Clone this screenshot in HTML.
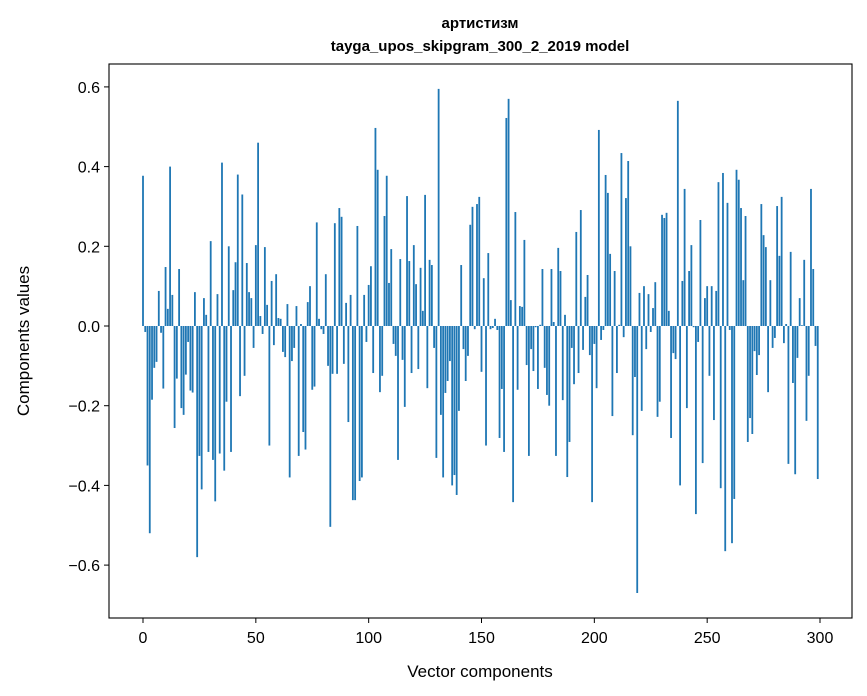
<!DOCTYPE html>
<html><head><meta charset="utf-8"><style>
html,body{margin:0;padding:0;background:#fff;}
svg{display:block;font-family:"Liberation Sans","DejaVu Sans",sans-serif;}
</style></head><body>
<svg id="chart" width="867" height="696" viewBox="0 0 867 696">
<rect width="867" height="696" fill="#fff"/>
<text x="480" y="28" text-anchor="middle" font-size="15" font-weight="bold">артистизм</text>
<text x="480" y="51" text-anchor="middle" font-size="15" font-weight="bold">tayga_upos_skipgram_300_2_2019 model</text>
<g id="bars"></g>
<g id="axes"></g>
<rect x="109" y="64" width="743" height="554" fill="none" stroke="#000" stroke-width="1.1"/>
<text x="480" y="677" text-anchor="middle" font-size="17">Vector components</text>
<text transform="translate(29,341) rotate(-90)" text-anchor="middle" font-size="17">Components values</text>
</svg>
<script>
const values = [0.377,-0.015,-0.35,-0.52,-0.185,-0.105,-0.09,0.088,-0.017,-0.157,0.148,0.043,0.40,0.078,-0.256,-0.132,0.143,-0.206,-0.223,-0.122,-0.04,-0.162,-0.167,0.085,-0.58,-0.326,-0.41,0.07,0.028,-0.316,0.213,-0.336,-0.44,0.08,-0.32,0.41,-0.363,-0.19,0.2,-0.316,0.09,0.16,0.38,-0.176,0.33,-0.125,0.158,0.085,0.07,-0.055,0.203,0.46,0.025,-0.02,0.198,0.053,-0.3,0.113,-0.048,0.13,0.02,0.018,-0.065,-0.078,0.055,-0.38,-0.088,-0.055,0.05,-0.326,0.005,-0.266,-0.31,0.06,0.1,-0.16,
-0.152,0.26,0.018,-0.008,-0.02,0.13,-0.1,-0.504,-0.12,0.258,-0.12,0.296,0.274,-0.095,0.058,-0.241,0.078,-0.437,-0.437,0.251,-0.389,-0.38,0.078,-0.04,0.103,0.15,-0.118,0.497,0.392,-0.166,-0.125,0.276,0.377,0.108,0.193,-0.045,-0.075,-0.336,0.168,-0.085,-0.203,0.326,0.163,-0.118,0.203,0.105,-0.108,0.146,0.038,0.329,-0.156,0.166,0.153,-0.055,-0.331,0.595,-0.223,-0.38,-0.168,-0.138,-0.088,-0.4,-0.374,-0.424,-0.213,0.153,-0.058,-0.138,-0.075,0.254,0.299,-0.008,0.306,0.324,
-0.115,0.12,-0.3,0.183,-0.008,-0.005,0.018,-0.01,-0.281,-0.158,-0.316,0.522,0.57,0.065,-0.442,0.286,-0.16,0.05,0.048,0.216,-0.098,-0.326,-0.058,-0.113,-0.003,-0.158,0.003,0.143,-0.105,-0.173,-0.2,0.143,0.01,-0.326,0.196,0.138,-0.186,0.028,-0.379,-0.291,-0.055,-0.146,0.236,-0.118,0.291,-0.06,0.073,0.128,-0.073,-0.442,-0.045,-0.156,0.492,-0.035,-0.01,0.379,0.334,0.181,-0.226,0.138,-0.118,0.003,0.434,-0.028,0.321,0.414,0.2,-0.274,-0.128,-0.67,0.083,-0.213,0.1,-0.058,
0.08,-0.015,0.045,0.11,-0.228,-0.19,0.279,0.271,0.284,0.038,-0.281,-0.068,-0.083,0.565,-0.4,0.113,0.344,-0.206,0.138,0.203,-0.003,-0.472,-0.04,0.266,-0.344,0.07,0.1,-0.125,0.1,-0.236,0.088,0.361,-0.407,0.384,-0.565,0.309,-0.01,-0.545,-0.434,0.392,0.367,0.296,0.115,0.276,-0.291,-0.231,-0.271,-0.063,-0.123,-0.073,0.306,0.228,0.198,-0.166,0.115,-0.055,-0.03,0.301,0.176,0.324,-0.043,0.005,-0.346,0.186,-0.143,-0.372,-0.08,0.07,0.002,0.166,-0.238,-0.125,0.344,0.143,-0.05,-0.384];
const xTicks = [0,50,100,150,200,250,300];
const yTicks = [-0.6,-0.4,-0.2,0,0.2,0.4,0.6];
const yTickLabels = ["\u22120.6","\u22120.4","\u22120.2","0.0","0.2","0.4","0.6"];

const NS = "http://www.w3.org/2000/svg";
const xScale = v => 143 + v * 2.2567;
const yScale = v => 326 - v * 398.5;
const barsG = document.getElementById('bars');
const axesG = document.getElementById('axes');
values.forEach((v, i) => {
  const r = document.createElementNS(NS, 'rect');
  const y0 = yScale(0), y1 = yScale(v);
  r.setAttribute('x', xScale(i - 0.4));
  r.setAttribute('width', 0.8 * 2.2567);
  r.setAttribute('y', Math.min(y0, y1));
  r.setAttribute('height', Math.max(Math.abs(y1 - y0), 0.3));
  r.setAttribute('fill', '#1f77b4');
  
  
  barsG.appendChild(r);
});
xTicks.forEach(t => {
  const x = xScale(t);
  const l = document.createElementNS(NS, 'line');
  l.setAttribute('x1', x); l.setAttribute('x2', x);
  l.setAttribute('y1', 618); l.setAttribute('y2', 623);
  l.setAttribute('stroke', '#000');
  
  
  axesG.appendChild(l);
  const tx = document.createElementNS(NS, 'text');
  tx.setAttribute('x', x); tx.setAttribute('y', 643);
  tx.setAttribute('text-anchor', 'middle');
  tx.setAttribute('font-size', '16');
  tx.textContent = t;
  
  
  axesG.appendChild(tx);
});
yTicks.forEach((t, k) => {
  const y = yScale(t);
  const l = document.createElementNS(NS, 'line');
  l.setAttribute('x1', 104); l.setAttribute('x2', 109);
  l.setAttribute('y1', y); l.setAttribute('y2', y);
  l.setAttribute('stroke', '#000');
  
  
  axesG.appendChild(l);
  const tx = document.createElementNS(NS, 'text');
  tx.setAttribute('x', 100); tx.setAttribute('y', y + 6);
  tx.setAttribute('text-anchor', 'end');
  tx.setAttribute('font-size', '16');
  tx.textContent = yTickLabels[k];
  
  
  axesG.appendChild(tx);
});
</script>
</body></html>
